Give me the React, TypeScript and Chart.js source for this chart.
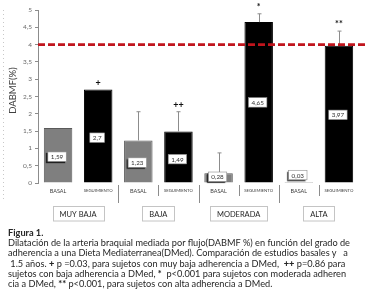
import React, { useEffect, useRef } from "react";
import { Chart, registerables } from "chart.js";

Chart.register(...registerables);

const categories = ["BASAL", "SEGUIMIENTO", "BASAL", "SEGUIMIENTO", "BASAL", "SEGUIMIENTO", "BASAL", "SEGUIMIENTO"];
const groups = ["MUY BAJA", "BAJA", "MODERADA", "ALTA"];
const values = [1.59, 2.7, 1.23, 1.49, 0.28, 4.65, 0.03, 3.97];
const valueLabels = ["1,59", "2,7", "1,23", "1,49", "0,28", "4,65", "0,03", "3,97"];
const labelAnchors = [0.76, 1.31, 0.59, 0.69, 0.18, 2.33, 0.23, 1.97];
const errorTops: (number | null)[] = [null, null, 2.06, 2.06, 0.87, 4.89, null, 4.39];
const significance = ["", "+", "", "++", "", "*", "", "**"];
const referenceLine = 4;
const yTickValues = [0, 0.5, 1, 1.5, 2, 2.5, 3, 3.5, 4, 4.5, 5];
const yTitle = "DABMF(%)";
const captionTitle = "Figura 1.";
const captionLines = [
  "Dilatación de la arteria braquial mediada por flujo(DABMF %) en función del grado de",
  "adherencia a una Dieta Mediaterranea(DMed). Comparación de estudios basales y   a",
  "__1.5 años. [+] p =0.03, para sujetos con muy baja adherencia a DMed,  [++] p=0.86 para",
  "sujetos con baja adherencia a DMed, [*]  p<0.001 para sujetos con moderada adheren",
  "cia a DMed, [**] p<0.001, para sujetos con alta adherencia a DMed.",
];

const FONT = "Lato, 'Open Sans', sans-serif";

const overlay = {
  id: "overlay",
  afterDatasetsDraw(chart: any) {
    const ctx = chart.ctx;
    const ca = chart.chartArea;
    const x = chart.scales.x;
    const y = chart.scales.y;
    const meta = chart.getDatasetMeta(0);
    ctx.save();

    // faint dotted line at far left
    ctx.strokeStyle = "#c8c8c8";
    ctx.lineWidth = 1;
    ctx.setLineDash([1, 3]);
    ctx.beginPath();
    ctx.moveTo(3.5, ca.top);
    ctx.lineTo(3.5, ca.bottom + 17);
    ctx.stroke();
    ctx.setLineDash([]);

    // error bars
    ctx.strokeStyle = "#8c8c8c";
    ctx.lineWidth = 1;
    meta.data.forEach((bar: any, i: number) => {
      const top = errorTops[i];
      if (top == null) return;
      const px = Math.round(bar.x) + 0.5;
      const py = y.getPixelForValue(top);
      ctx.beginPath();
      ctx.moveTo(px, bar.y);
      ctx.lineTo(px, py);
      ctx.moveTo(px - 2, py);
      ctx.lineTo(px + 2, py);
      ctx.stroke();
    });

    // reference dashed line
    const ry = y.getPixelForValue(referenceLine);
    ctx.strokeStyle = "#C0151D";
    ctx.lineWidth = 2.6;
    ctx.setLineDash([7, 3]);
    ctx.beginPath();
    ctx.moveTo(ca.left, ry);
    ctx.lineTo(chart.width, ry);
    ctx.stroke();
    ctx.setLineDash([]);

    // value label boxes
    ctx.font = `6.3px ${FONT}`;
    ctx.textAlign = "center";
    ctx.textBaseline = "middle";
    meta.data.forEach((bar: any, i: number) => {
      const cy = y.getPixelForValue(labelAnchors[i]);
      const tw = ctx.measureText(valueLabels[i]).width;
      const w = tw + 6;
      const h = 9.5;
      const bx = bar.x - 1 - w / 2;
      ctx.save();
      ctx.shadowColor = "rgba(0,0,0,0.75)";
      ctx.shadowOffsetX = -1.5;
      ctx.shadowOffsetY = 1.5;
      ctx.shadowBlur = 1;
      ctx.fillStyle = "#ffffff";
      ctx.fillRect(bx, cy - h / 2, w, h);
      ctx.restore();
      ctx.strokeStyle = "#8c8c8c";
      ctx.lineWidth = 0.6;
      ctx.strokeRect(bx, cy - h / 2, w, h);
      ctx.fillStyle = "#333333";
      ctx.fillText(valueLabels[i], bar.x - 1, cy + 0.5);
    });

    // significance markers
    ctx.font = `bold 9px ${FONT}`;
    ctx.fillStyle = "#111111";
    ctx.textBaseline = "alphabetic";
    meta.data.forEach((bar: any, i: number) => {
      if (!significance[i]) return;
      const top = errorTops[i] != null ? Math.min(bar.y, y.getPixelForValue(errorTops[i] as number)) : bar.y;
      ctx.fillText(significance[i], bar.x, top - 4);
    });

    // x category labels
    ctx.fillStyle = "#404040";
    ctx.textBaseline = "middle";
    categories.forEach((c, i) => {
      const cx = x.getPixelForValue(i);
      ctx.font = c === "BASAL" ? `5.5px ${FONT}` : `4.3px ${FONT}`;
      ctx.fillText(c, cx, ca.bottom + 8);
    });

    // separators
    ctx.strokeStyle = "#8c8c8c";
    ctx.lineWidth = 1;
    for (let i = 2; i < categories.length; i++) {
      const sx = Math.round((x.getPixelForValue(i - 1) + x.getPixelForValue(i)) / 2) + 0.5;
      const long = i % 2 === 0;
      ctx.beginPath();
      ctx.moveTo(sx, ca.bottom + 2);
      ctx.lineTo(sx, ca.bottom + (long ? 20 : 13));
      ctx.stroke();
    }

    // group boxes
    ctx.font = `7.5px ${FONT}`;
    groups.forEach((g, gi) => {
      const gx = (x.getPixelForValue(gi * 2) + x.getPixelForValue(gi * 2 + 1)) / 2;
      const tw = ctx.measureText(g).width;
      const w = tw + 14;
      const top = ca.bottom + 23.5;
      const h = 14.5;
      ctx.fillStyle = "#ffffff";
      ctx.fillRect(gx - w / 2, top, w, h);
      ctx.strokeStyle = "#c4c4c4";
      ctx.lineWidth = 1;
      ctx.strokeRect(Math.round(gx - w / 2) + 0.5, top, Math.round(w), h);
      ctx.fillStyle = "#262626";
      ctx.fillText(g, gx, top + h / 2 + 0.5);
    });

    // y title
    ctx.save();
    ctx.translate(13, (ca.top + ca.bottom) / 2 - 6);
    ctx.rotate(-Math.PI / 2);
    ctx.font = `9.5px ${FONT}`;
    ctx.fillStyle = "#404040";
    ctx.textAlign = "center";
    ctx.fillText(yTitle, 0, 0);
    ctx.restore();

    ctx.restore();
  },
};

function renderLine(line: string, k: number) {
  const parts = line.split(/(\[[^\]]+\]|__)/).filter((p) => p !== "");
  return (
    <div key={k} style={{ whiteSpace: "pre", height: 10.2, lineHeight: "10.2px" }}>
      {parts.map((p, i) => {
        if (p === "__") return <span key={i}>{"\u00a0"}</span>;
        if (p.startsWith("[")) return <b key={i} style={{ fontWeight: 900 }}>{p.slice(1, -1)}</b>;
        return <span key={i}>{p}</span>;
      })}
    </div>
  );
}

export default function App() {
  const ref = useRef<HTMLCanvasElement | null>(null);
  useEffect(() => {
    if (!ref.current) return;
    const chart = new Chart(ref.current, {
      type: "bar",
      data: {
        labels: categories,
        datasets: [
          {
            data: values,
            backgroundColor: categories.map((c) => (c === "BASAL" ? "#7f7f7f" : "#000000")),
            borderColor: categories.map((c) => (c === "BASAL" ? "#5a5a5a" : "#000000")),
            borderWidth: 1,
            barPercentage: 0.71,
            categoryPercentage: 1,
          },
        ],
      },
      options: {
        responsive: false,
        animation: false,
        devicePixelRatio: 1,
        layout: { padding: { top: 10, left: 0, right: 9, bottom: 114 } },
        plugins: { legend: { display: false }, tooltip: { enabled: false } },
        scales: {
          x: { display: false },
          y: {
            min: 0,
            max: 5,
            afterBuildTicks: (axis: any) => {
              axis.ticks = yTickValues.map((v) => ({ value: v }));
            },
            afterFit: (axis: any) => {
              axis.width = 38;
            },
            ticks: {
              callback: (v: any) => String(v).replace(".", ","),
              font: { size: 6.5, family: FONT },
              color: "#6a6a6a",
              padding: 3,
            },
            grid: { drawOnChartArea: false, drawTicks: true, tickLength: 3, color: "#8c8c8c" },
            border: { display: true, color: "#8c8c8c" },
          },
        },
      },
      plugins: [overlay],
    });
    return () => chart.destroy();
  }, []);

  return (
    <div style={{ position: "absolute", left: 0, top: 0, width: 368, height: 297, background: "#fff", overflow: "hidden" }}>
      <canvas ref={ref} width={368} height={297} style={{ position: "absolute", left: 0, top: 0 }} />
      <div
        style={{
          position: "absolute",
          left: 8,
          top: 228,
          fontFamily: FONT,
          fontSize: 9.2,
          color: "#262626",
        }}
      >
        <div style={{ fontWeight: 700, height: 10.2, lineHeight: "10.2px" }}>{captionTitle}</div>
        {captionLines.map((l, k) => renderLine(l, k))}
      </div>
    </div>
  );
}
